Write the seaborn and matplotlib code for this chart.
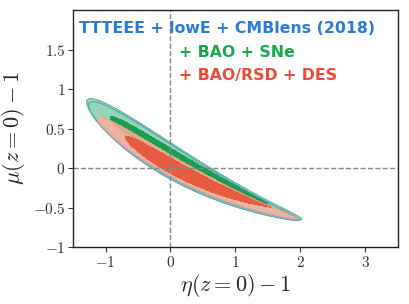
import matplotlib
matplotlib.use("Agg")
import matplotlib.pyplot as plt
import numpy as np
import seaborn as sns

sns.set_theme(style="ticks")
plt.rcParams["mathtext.fontset"] = "cm"
plt.rcParams["font.family"] = ["DejaVu Sans"]

# legend lines and colours (blue, green, red)
labels = ["TTTEEE + lowE + CMBlens (2018)", "+ BAO + SNe", "+ BAO/RSD + DES"]
text_colors = ["#2a7bd5", "#19a84b", "#f0493a"]
fill_outer = ["#b4d2f0", "#8fd6b4", "#fdaea0"]
fill_inner = ["#3d86d6", "#1a9e4f", "#e8553a"]
edge_colors = ["#5a88cc", "#4cba88", "#f4a090"]
outer_alpha = [1.0, 0.92, 0.85]
inner_alpha = [1.0, 1.0, 0.92]

# contour shapes:
# x extent, spine y = y0 + slope*x + curv*x^2, half thickness and its taper
outer_xlo = [-1.26, -1.29, -1.13]
outer_xhi = [1.99, 2.02, 1.97]
outer_y0 = [0.08, 0.10, 0.03]
outer_slope = [-0.49, -0.49, -0.46]
outer_curv = [0.06, 0.06, 0.06]
outer_w = [0.20, 0.20, 0.12]
outer_taper = [0.6, 0.6, 0.6]

inner_xlo = [-0.85, -0.93, -0.69]
inner_xhi = [1.60, 1.50, 1.56]
inner_y0 = [0.05, 0.15, 0.03]
inner_slope = [-0.49, -0.48, -0.46]
inner_curv = [0.08, 0.05, 0.08]
inner_w = [0.13, 0.095, 0.084]
inner_taper = [0.5, 0.4, 0.62]

xticks = [-1, 0, 1, 2, 3]
yticks = [-1, -0.5, 0, 0.5, 1, 1.5]

gx, gy = np.meshgrid(np.linspace(-1.5, 3.5, 800), np.linspace(-1, 2, 600))


def banana(xlo, xhi, y0, slope, curv, w, taper):
    xc = (xlo + xhi) / 2
    half = (xhi - xlo) / 2
    u = (gx - xc) / half
    spine = y0 + slope * gx + curv * gx**2
    width = np.clip(w * (1 - taper * u), 0.02, None)
    return u**2 + ((gy - spine) / width) ** 2


fig = plt.figure(figsize=(4.09, 3.04), dpi=100)
ax = fig.add_axes([0.1785, 0.1875, 0.7945, 0.7795])

for i in range(3):
    f_out = banana(outer_xlo[i], outer_xhi[i], outer_y0[i], outer_slope[i],
                   outer_curv[i], outer_w[i], outer_taper[i])
    f_in = banana(inner_xlo[i], inner_xhi[i], inner_y0[i], inner_slope[i],
                  inner_curv[i], inner_w[i], inner_taper[i])
    ax.contourf(gx, gy, f_out, levels=[0, 1], colors=[fill_outer[i]], alpha=outer_alpha[i])
    ax.contour(gx, gy, f_out, levels=[1], colors=[edge_colors[i]], linewidths=0.8,
               alpha=0.8)
    ax.contourf(gx, gy, f_in, levels=[0, 1], colors=[fill_inner[i]], alpha=inner_alpha[i])

ax.axvline(0, color="#888888", ls="--", lw=1)
ax.axhline(0, color="#888888", ls="--", lw=1)

ax.set_xlim(-1.5, 3.5)
ax.set_ylim(-1, 2)
ax.set_xticks(xticks)
ax.set_yticks(yticks)
ax.set_xticklabels([f"${v:g}$" for v in xticks], fontsize=11)
ax.set_yticklabels([f"${v:g}$" for v in yticks], fontsize=11)
ax.tick_params(direction="out", length=3.5, width=0.8, pad=2, colors="#333333")
for s in ax.spines.values():
    s.set_linewidth(1.0)
    s.set_color("#222222")
ax.set_xlabel(r"$\eta(z=0)-1$", fontsize=16, labelpad=2)
ax.set_ylabel(r"$\mu(z=0)-1$", fontsize=16, labelpad=4)

text_x = [0.017, 0.325, 0.325]
text_y = [0.92, 0.819, 0.722]
for lab, c, tx, ty in zip(labels, text_colors, text_x, text_y):
    ax.text(tx, ty, lab, color=c, transform=ax.transAxes, fontsize=11.3,
            fontweight="bold", ha="left", va="center")

fig.savefig("out.png", dpi=100, facecolor="white")
